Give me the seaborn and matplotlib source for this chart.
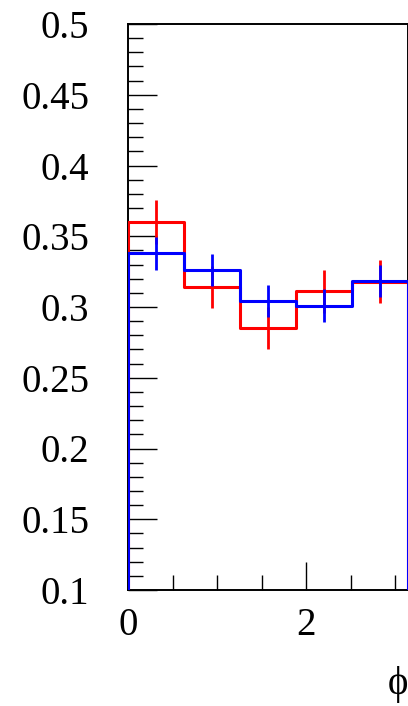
import numpy as np
import pandas as pd
import matplotlib
matplotlib.use("Agg")
import matplotlib.pyplot as plt
import seaborn as sns
from matplotlib.ticker import MultipleLocator, FixedLocator, FixedFormatter

# histogram contents (5 bins over 0..pi)
n_bins = 5
red_values = [0.360, 0.314, 0.285, 0.311, 0.318]
red_errors = [0.0157, 0.015, 0.015, 0.015, 0.015]
blue_values = [0.338, 0.326, 0.304, 0.301, 0.3185]
blue_errors = [0.0116, 0.0115, 0.0113, 0.0115, 0.0113]

ytick_values = [0.1, 0.15, 0.2, 0.25, 0.3, 0.35, 0.4, 0.45, 0.5]
ytick_labels = ["0.1", "0.15", "0.2", "0.25", "0.3", "0.35", "0.4", "0.45", "0.5"]
xtick_values = [0, 2]
xtick_labels = ["0", "2"]

edges = np.linspace(0, np.pi, n_bins + 1)
centers = 0.5 * (edges[:-1] + edges[1:])

sns.set_theme(style="ticks")
plt.rcParams["font.family"] = ["Liberation Serif", "DejaVu Serif"]
plt.rcParams["text.color"] = "black"
plt.rcParams["xtick.labelcolor"] = "black"
plt.rcParams["ytick.labelcolor"] = "black"

fig = plt.figure(figsize=(4.08, 7.06), dpi=100)
ax = fig.add_axes([128 / 408, 1 - 590 / 706, 280 / 408, 566 / 706])


def step_frame(values):
    # outline of a ROOT-style histogram, dropping to zero at both ends
    xs = np.concatenate([[edges[0]], edges, [edges[-1]]])
    ys = np.concatenate([[0.0], values, [values[-1], 0.0]])
    return pd.DataFrame({"x": xs, "y": ys})


for values, errors, color, z in [(red_values, red_errors, "#ff0000", 3),
                                 (blue_values, blue_errors, "#0000ff", 5)]:
    sns.lineplot(data=step_frame(values), x="x", y="y", ax=ax, sort=False,
                 estimator=None, drawstyle="steps-post", color=color,
                 linewidth=2.2, zorder=z)
    ax.errorbar(centers, values, yerr=errors, fmt="none", ecolor=color,
                elinewidth=2.0, capsize=0, zorder=z + 1)

ax.set_xlim(0, np.pi)
ax.set_ylim(0.1, 0.5)

ax.xaxis.set_major_locator(FixedLocator(xtick_values))
ax.xaxis.set_major_formatter(FixedFormatter(xtick_labels))
ax.xaxis.set_minor_locator(MultipleLocator(0.5))
ax.yaxis.set_major_locator(FixedLocator(ytick_values))
ax.yaxis.set_major_formatter(FixedFormatter(ytick_labels))
ax.yaxis.set_minor_locator(MultipleLocator(0.01))

ax.tick_params(which="both", direction="in", top=False, right=False,
               color="black", labelcolor="black", width=1.0, labelsize=28)
ax.tick_params(axis="y", which="major", length=21, pad=28)
ax.tick_params(axis="y", which="minor", length=11)
ax.tick_params(axis="x", which="major", length=20, pad=12)
ax.tick_params(axis="x", which="minor", length=11)

for side in ["left", "bottom", "top", "right"]:
    ax.spines[side].set_visible(True)
    ax.spines[side].set_linewidth(1.4)
    ax.spines[side].set_color("black")

ax.set_xlabel("\u03d5", loc="right", fontsize=28, labelpad=16, color="black")
ax.set_ylabel("")

fig.savefig("out.png", dpi=100)
